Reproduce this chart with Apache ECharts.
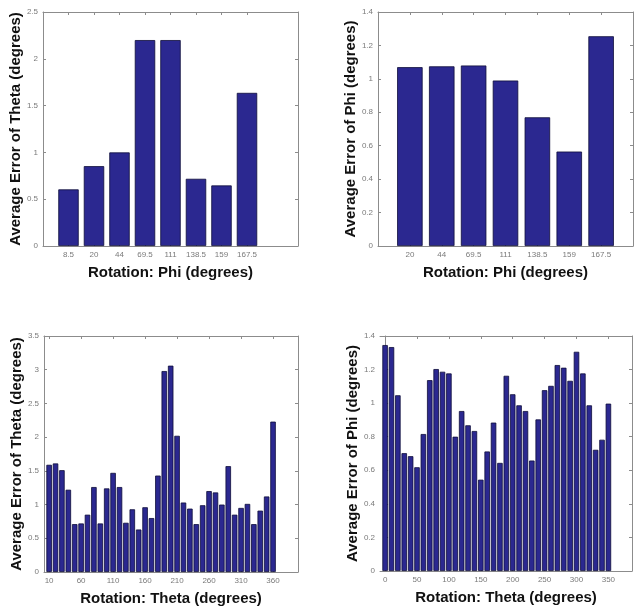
<!DOCTYPE html>
<html>
<head>
<meta charset="utf-8">
<script src="https://cdn.jsdelivr.net/npm/echarts@6/dist/echarts.min.js"></script>
<style>
  html, body { margin: 0; padding: 0; background: #fff; }
  #main { width: 634px; height: 610px; }
</style>
</head>
<body>
<div id="main"></div>
<script>
// top row: error vs phi rotation
const phiCatsA = ["8.5", "20", "44", "69.5", "111", "138.5", "159", "167.5"];
const thetaErrA = [0.605, 0.853, 1.0, 2.2, 2.2, 0.718, 0.647, 1.636];
const phiCatsB = ["20", "44", "69.5", "111", "138.5", "159", "167.5"];
const phiErrB = [1.07, 1.075, 1.08, 0.99, 0.77, 0.565, 1.255];

// bottom row: error vs theta rotation
const thetaRotC = [10, 20, 30, 40, 50, 60, 70, 80, 90, 100, 110, 120, 130, 140, 150, 160, 170, 180,
  190, 200, 210, 220, 230, 240, 250, 260, 270, 280, 290, 300, 310, 320, 330, 340, 350, 360];
const thetaErrC = [1.59, 1.61, 1.51, 1.22, 0.71, 0.72, 0.85, 1.26, 0.72, 1.24, 1.47, 1.26, 0.73, 0.93,
  0.63, 0.96, 0.80, 1.43, 2.98, 3.06, 2.02, 1.03, 0.94, 0.71, 0.99, 1.20, 1.18, 1.00, 1.57, 0.85, 0.95,
  1.01, 0.71, 0.91, 1.12, 2.23];
const thetaTicksC = [10, 60, 110, 160, 210, 260, 310, 360];
const thetaRotD = [0, 10, 20, 30, 40, 50, 60, 70, 80, 90, 100, 110, 120, 130, 140, 150, 160, 170,
  180, 190, 200, 210, 220, 230, 240, 250, 260, 270, 280, 290, 300, 310, 320, 330, 340, 350];
const phiErrD = [1.346, 1.334, 1.047, 0.702, 0.684, 0.618, 0.816, 1.137, 1.203, 1.187, 1.177, 0.8,
  0.953, 0.868, 0.834, 0.544, 0.712, 0.884, 0.644, 1.163, 1.053, 0.987, 0.953, 0.658, 0.903, 1.077,
  1.103, 1.227, 1.211, 1.133, 1.306, 1.177, 0.987, 0.722, 0.782, 0.997];
const thetaTicksD = [0, 50, 100, 150, 200, 250, 300, 350];

const barFill = "#2b2890";
const barEdge = "#0e0c3a";
const boxColor = "#8c8c8c";
const tickText = "#7a7a7a";
const titleFont = "Liberation Sans";

const panels = [
  {
    grid: {left: 43, top: 12, width: 255, height: 234},
    xmin: 0, xmax: 10, step: 1, fill: 0.8,
    xs: phiCatsA.map((c, i) => i + 1),
    xlab: (v) => phiCatsA[v - 1],
    ys: thetaErrA, ymax: 2.5, yint: 0.5,
    xname: "Rotation: Phi (degrees)", yname: "Average Error of Theta (degrees)"
  },
  {
    grid: {left: 378, top: 12, width: 255, height: 234},
    xmin: 0, xmax: 8, step: 1, fill: 0.8,
    xs: phiCatsB.map((c, i) => i + 1),
    xlab: (v) => phiCatsB[v - 1],
    ys: phiErrB, ymax: 1.4, yint: 0.2,
    xname: "Rotation: Phi (degrees)", yname: "Average Error of Phi (degrees)"
  },
  {
    grid: {left: 44, top: 336, width: 254, height: 236},
    xmin: 2, xmax: 399, step: 10, fill: 0.86,
    xs: thetaRotC, ticks: thetaTicksC,
    xlab: (v) => String(v),
    ys: thetaErrC, ymax: 3.5, yint: 0.5,
    xname: "Rotation: Theta (degrees)", yname: "Average Error of Theta (degrees)"
  },
  {
    grid: {left: 380, top: 336, width: 252, height: 235},
    xmin: -8, xmax: 387, step: 10, fill: 0.86,
    xs: thetaRotD, ticks: thetaTicksD,
    xlab: (v) => String(v),
    ys: phiErrD, ymax: 1.4, yint: 0.2,
    xname: "Rotation: Theta (degrees)", yname: "Average Error of Phi (degrees)"
  }
];

const grids = [], xAxes = [], yAxes = [], series = [];
const lineStyle = {color: boxColor, width: 1};
const nameStyle = {color: "#111", fontSize: 15, fontWeight: "bold", fontFamily: titleFont};

panels.forEach((p, i) => {
  grids.push(Object.assign({containLabel: false}, p.grid));
  const tickVals = p.ticks || p.xs;
  // bottom x axis
  xAxes.push({
    type: "value", gridIndex: i, min: p.xmin, max: p.xmax,
    splitLine: {show: false},
    axisLine: {show: true, onZero: false, lineStyle: lineStyle},
    axisTick: {show: true, inside: true, length: 3, lineStyle: lineStyle, customValues: tickVals},
    axisLabel: {
      customValues: tickVals, formatter: p.xlab,
      color: tickText, fontSize: 8, fontFamily: titleFont, margin: 5
    },
    name: p.xname, nameLocation: "middle", nameGap: 19,
    nameTextStyle: nameStyle
  });
  // left y axis
  yAxes.push({
    type: "value", gridIndex: i, min: 0, max: p.ymax, interval: p.yint,
    splitLine: {show: false},
    axisLine: {show: true, lineStyle: lineStyle},
    axisTick: {show: true, inside: true, length: 3, lineStyle: lineStyle},
    axisLabel: {color: tickText, fontSize: 8, fontFamily: titleFont, margin: 5},
    name: p.yname, nameLocation: "middle", nameGap: 20, nameRotate: 90,
    nameTextStyle: nameStyle
  });
  // bar width as a fraction of the spacing between neighbouring bars
  const pxPerUnit = p.grid.width / (p.xmax - p.xmin);
  series.push({
    type: "bar",
    xAxisIndex: i, yAxisIndex: i,
    data: p.xs.map((x, k) => [x, p.ys[k]]),
    barWidth: p.fill * p.step * pxPerUnit,
    itemStyle: {color: barFill, borderColor: barEdge, borderWidth: 0.8},
    silent: true
  });
});

// box: top and right axes with inward ticks
panels.forEach((p, i) => {
  const tickVals = p.ticks || p.xs;
  xAxes.push({
    type: "value", gridIndex: i, position: "top", min: p.xmin, max: p.xmax,
    splitLine: {show: false},
    axisLine: {show: true, onZero: false, lineStyle: lineStyle},
    axisTick: {show: true, inside: true, length: 3, lineStyle: lineStyle, customValues: tickVals},
    axisLabel: {show: false}
  });
  yAxes.push({
    type: "value", gridIndex: i, position: "right", min: 0, max: p.ymax, interval: p.yint,
    splitLine: {show: false},
    axisLine: {show: true, onZero: false, lineStyle: lineStyle},
    axisTick: {show: true, inside: true, length: 3, lineStyle: lineStyle},
    axisLabel: {show: false}
  });
});

const chart = echarts.init(document.getElementById("main"), null, {renderer: "canvas"});
chart.setOption({
  backgroundColor: "#ffffff",
  animation: false,
  grid: grids,
  xAxis: xAxes,
  yAxis: yAxes,
  series: series
});
</script>
</body>
</html>
